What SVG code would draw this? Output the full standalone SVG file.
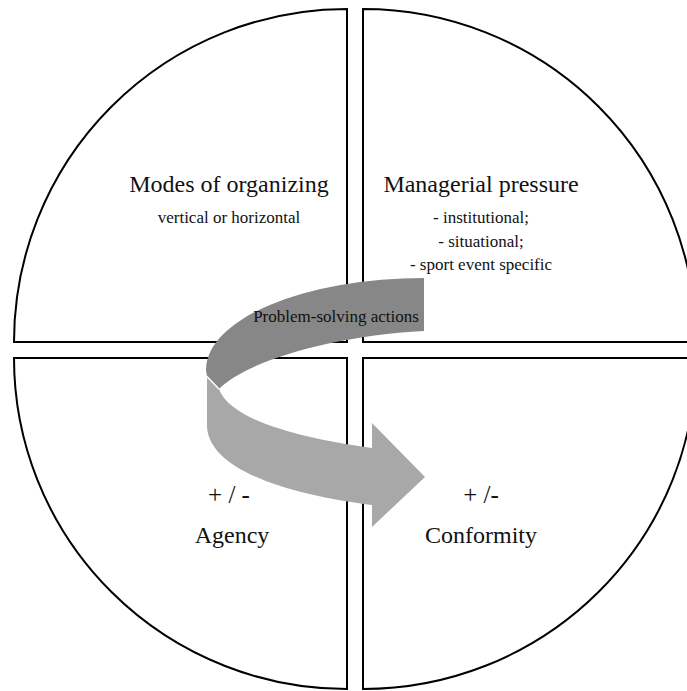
<svg xmlns="http://www.w3.org/2000/svg" width="687" height="691" viewBox="0 0 687 691">
  <style>
    .quad { fill: #ffffff; stroke: #000000; stroke-width: 2; }
    .t { font-family: 'Liberation Serif', 'Times New Roman', Times, 'DejaVu Serif', serif; fill: #111111; text-anchor: middle; }
    .big { font-size: 24px; }
    .small { font-size: 17px; }
    .pm { font-size: 25px; }
  </style>
  <rect x="0" y="0" width="687" height="691" fill="#ffffff"/>

  <g id="modes-of-organizing">
    <path class="quad" d="M 347,342 L 14,342 A 333 333 0 0 1 347,9 Z"/>
    <text class="t big" font-family="Liberation Serif, serif" x="229" y="191.5">Modes of organizing</text>
    <text class="t small" font-family="Liberation Serif, serif" x="229" y="223">vertical or horizontal</text>
  </g>

  <g id="managerial-pressure">
    <path class="quad" d="M 363,342 L 363,9 A 333 333 0 0 1 696,342 Z"/>
    <text class="t big" font-family="Liberation Serif, serif" x="481" y="191.5">Managerial pressure</text>
    <text class="t small" font-family="Liberation Serif, serif" x="481" y="223">- institutional;</text>
    <text class="t small" font-family="Liberation Serif, serif" x="481" y="246.5">- situational;</text>
    <text class="t small" font-family="Liberation Serif, serif" x="481" y="270">- sport event specific</text>
  </g>

  <g id="agency">
    <path class="quad" d="M 347,358 L 347,689 A 333 331 0 0 1 14,358 Z"/>
    <text class="t pm" font-family="Liberation Serif, serif" x="229" y="503">+ / -</text>
    <text class="t big" font-family="Liberation Serif, serif" x="232" y="542.5">Agency</text>
  </g>

  <g id="conformity">
    <path class="quad" d="M 363,358 L 696,358 A 333 331 0 0 1 363,689 Z"/>
    <text class="t pm" font-family="Liberation Serif, serif" x="481" y="503">+ /-</text>
    <text class="t big" font-family="Liberation Serif, serif" x="481" y="542.5">Conformity</text>
  </g>

  <g id="connectors">
    <path d="M 424,278 A 218 92 0 0 0 206,370 L 207,377 L 219,389 C 245,362 330,336 424,331 Z" fill="#878787"/>
    <path d="M 207,377 L 207,425 C 207,470 290,495 372,505 L 372,527 L 425,477 L 372,423 L 372,448 C 300,438 230,420 219,389 Z" fill="#a8a8a8"/>
    <line x1="206.5" y1="376" x2="219" y2="389" stroke="#ffffff" stroke-width="1.5"/>
    <text class="t small" font-family="Liberation Serif, serif" x="336" y="321.5" fill="#1a1a1a">Problem-solving actions</text>
  </g>
</svg>
